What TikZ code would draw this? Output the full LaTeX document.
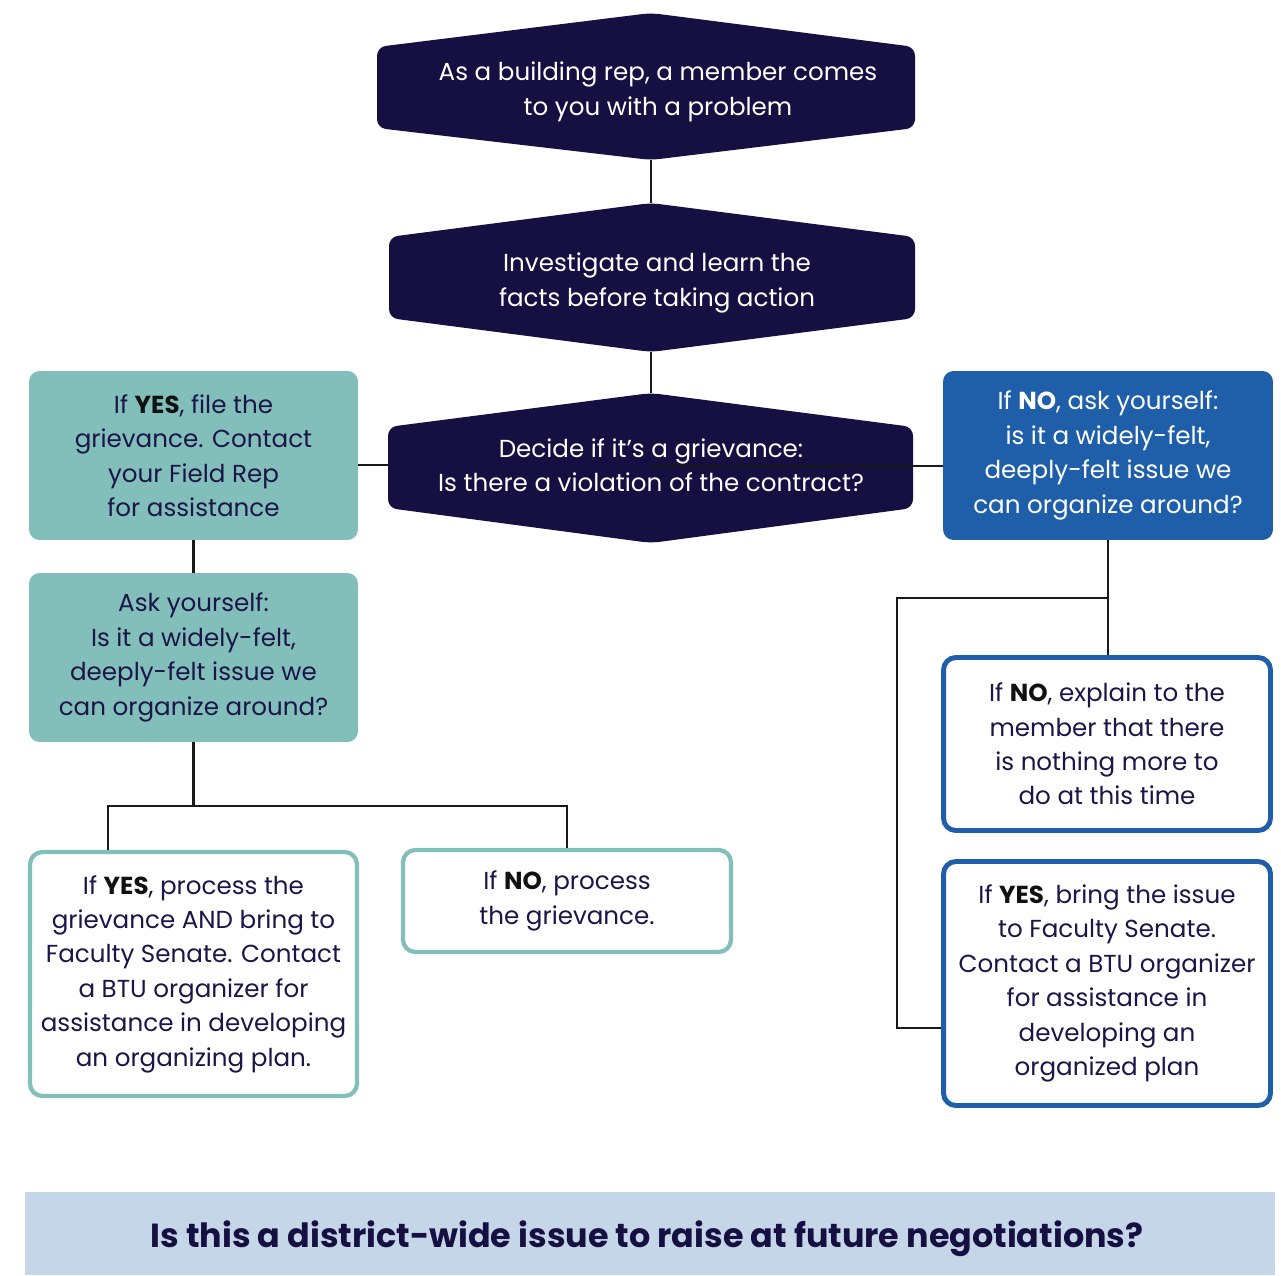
\documentclass[tikz,border=0pt]{standalone}
\usepackage{fontspec}
\setmainfont{Poppins}
\definecolor{navy}{HTML}{160F41}
\definecolor{txtnavy}{HTML}{1B1548}
\definecolor{teal}{HTML}{82BFBA}
\definecolor{bluebox}{HTML}{1F5FA9}
\definecolor{banner}{HTML}{C6D6E9}
\definecolor{bold}{HTML}{111111}
\newcommand\hexa[8]{% name, left, right, top, sidetop, sidebot, bottom, vertex x
  \fill[navy, rounded corners=5pt] (#8,#4) -- (#3,#5) -- (#3,#6) -- (#8,#7) -- (#2,#6) -- (#2,#5) -- cycle;
  \coordinate (#1-n) at (#8,#4);
  \coordinate (#1-s) at (#8,#7);
  \coordinate (#1-w) at (#2,465);
}
\newcommand\B[1]{\textbf{\color{bold}#1}}
\newcommand\W[1]{\textbf{#1}}
\begin{document}
\begin{tikzpicture}[x=0.02cm,y=-0.02cm,
  txt/.style={align=center, font=\fontsize{14}{19.6}\selectfont, inner sep=0pt},
  hextxt/.style={txt, text=white},
  tealbox/.style={txt, fill=teal, rounded corners=6pt, text=txtnavy},
  bluefill/.style={txt, fill=bluebox, rounded corners=6pt, text=white},
  tealline/.style={txt, draw=teal, line width=2.4pt, fill=white, rounded corners=7pt, text=txtnavy},
  blueline/.style={txt, draw=bluebox, line width=2.8pt, fill=white, rounded corners=7pt, text=txtnavy},
  conn/.style={draw=black!90, line width=1.4pt}]
\useasboundingbox (0,0) rectangle (1281,1275);
\fill[white] (0,0) rectangle (1281,1275);

% hexagons
\hexa{h1}{377}{915}{13}{47}{128}{160}{651}
\hexa{h2}{389}{915}{203}{237}{318}{352}{651}
\hexa{h3}{388}{913}{393}{427}{508}{543}{651}
\node[hextxt] (t1) at (658,92) {As a building rep, a member comes\\to you with a problem};
\node[hextxt] (t2) at (657,283) {Investigate and learn the\\facts before taking action};
\node[hextxt] (t3) at (651,465) {Decide if it’s a grievance:\\Is there a violation of the contract?};

% boxes
\node[tealbox, minimum width=6.58cm, minimum height=3.38cm] (y1) at (193.5,455.5)
  {If \B{YES}, file the\\grievance. Contact\\your Field Rep\\for assistance};
\node[tealbox, minimum width=6.58cm, minimum height=3.38cm] (y2) at (193.5,657.5)
  {Ask yourself:\\Is it a widely-felt,\\deeply-felt issue we\\can organize around?};
\node[bluefill, minimum width=6.6cm, minimum height=3.38cm] (bl) at (1108,455.5)
  {If \W{NO}, ask yourself:\\is it a widely-felt,\\deeply-felt issue we\\can organize around?};
\node[tealline, minimum width=6.54cm, minimum height=4.88cm] (b3) at (193.5,974)
  {If \B{YES}, process the\\grievance AND bring to\\Faculty Senate. Contact\\a BTU organizer for\\assistance in developing\\an organizing plan.};
\node[tealline, minimum width=6.56cm, minimum height=2.04cm] (b4) at (567,901)
  {If \B{NO}, process\\the grievance.};
\node[blueline, minimum width=6.54cm, minimum height=3.46cm] (r2) at (1107,744)
  {If \B{NO}, explain to the\\member that there\\is nothing more to\\do at this time};
\node[blueline, minimum width=6.54cm, minimum height=4.88cm] (r3) at (1107,983.5)
  {If \B{YES}, bring the issue\\to Faculty Senate.\\Contact a BTU organizer\\for assistance in\\developing an\\organized plan};

% connectors
\coordinate (d3) at (108,806);
\coordinate (e1) at (897,598);
\coordinate (e2) at (897,1028);
\coordinate (h3c) at (651,466);
\draw[conn] (h1-s) -- (h2-n);
\draw[conn] (h2-s) -- (h3-n);
\draw[conn] (h3-w) -- (h3-w -| y1.east);
\draw[conn] (h3c) -- (h3c -| bl.west);
\draw[conn] (y1.south) -- (y2.north);
\draw[conn] (y2.south) -- (y2.south |- d3);
\draw[conn] (d3 |- b3.north) -- (d3) -| (b4.north);
\draw[conn] (bl.south) -- (bl.south |- r2.north);
\draw[conn] (bl.south |- e1) -- (e1) -- (e2) -- (e2 -| r3.west);

% banner
\fill[banner] (25,1192) rectangle (1275,1275);
\node[font=\fontsize{19}{23}\selectfont\bfseries, text=navy, inner sep=0pt] (ban) at (647,1239)
  {Is this a district-wide issue to raise at future negotiations?};
\end{tikzpicture}
\end{document}
